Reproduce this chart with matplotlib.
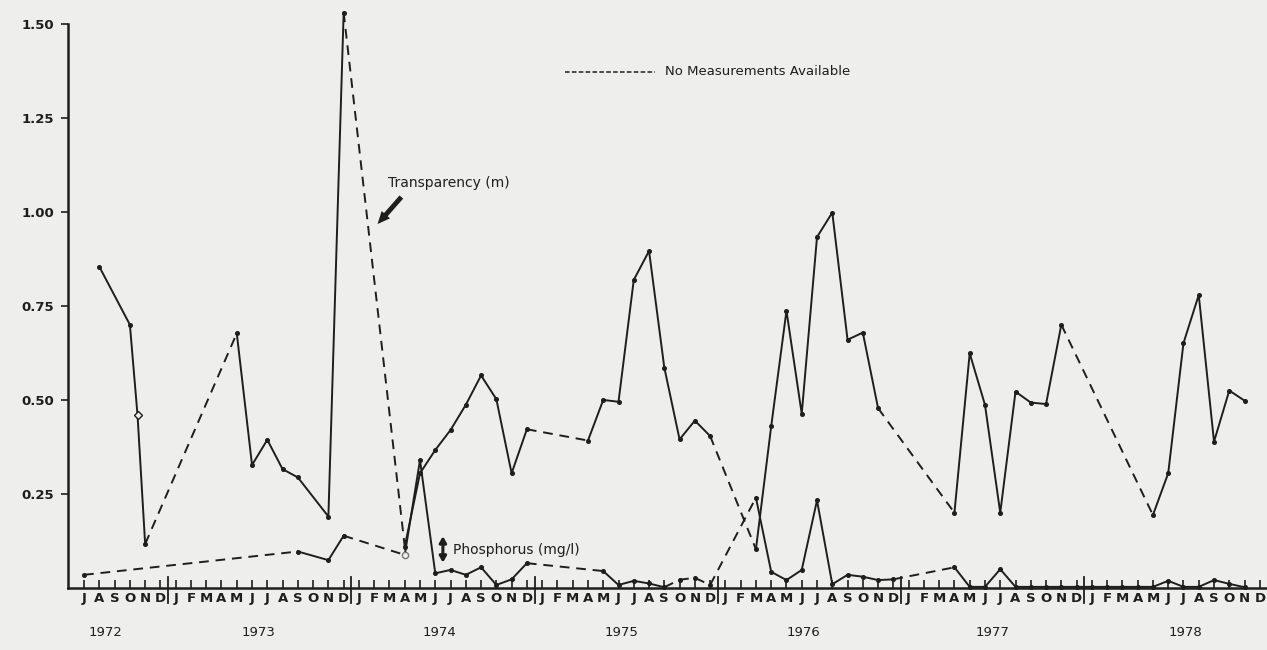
import matplotlib
matplotlib.use("Agg")
import matplotlib.pyplot as plt

# ---------------- data (x = months since July 1972) ----------------
trans_month = [1, 3, 3.5, 4, 10, 11, 12, 13, 14, 16, 17, 21, 22, 23, 24, 25, 26, 27,
               28, 29, 33, 34, 35, 36, 37, 38, 39, 40, 41, 44, 45, 46, 47, 48, 49, 50,
               51, 52, 57, 58, 59, 60, 61, 62, 63, 64, 70, 71, 72, 73, 74, 75, 76]
trans_value = [0.854, 0.70, 0.46, 0.117, 0.677, 0.327, 0.394, 0.316, 0.294, 0.19, 1.53,
               0.11, 0.305, 0.367, 0.42, 0.487, 0.565, 0.502, 0.305, 0.422, 0.392, 0.50,
               0.495, 0.819, 0.896, 0.586, 0.395, 0.445, 0.404, 0.103, 0.43, 0.737, 0.463,
               0.933, 0.998, 0.66, 0.679, 0.478, 0.20, 0.624, 0.487, 0.20, 0.522, 0.493,
               0.489, 0.70, 0.194, 0.305, 0.651, 0.779, 0.389, 0.525, 0.498]
# months at which a "no measurements" (dashed) stretch begins
trans_gap_start = [4, 17, 29, 41, 52, 64]

phos_month = [0, 14, 16, 17, 21, 22, 23, 24, 25, 26, 27, 28, 29, 34, 35, 36, 37, 38,
              39, 40, 41, 44, 45, 46, 47, 48, 49, 50, 51, 52, 53, 57, 58, 59, 60, 61,
              62, 63, 64, 65, 66, 67, 68, 69, 70, 71, 72, 73, 74, 75, 76]
phos_value = [0.035, 0.097, 0.074, 0.139, 0.088, 0.34, 0.039, 0.048, 0.035, 0.055, 0.008,
              0.023, 0.066, 0.045, 0.008, 0.019, 0.012, 0.002, 0.022, 0.027, 0.008, 0.24,
              0.043, 0.021, 0.048, 0.233, 0.01, 0.035, 0.03, 0.021, 0.023, 0.055, 0.003,
              0.003, 0.05, 0.003, 0.003, 0.003, 0.003, 0.003, 0.003, 0.003, 0.003, 0.003,
              0.003, 0.019, 0.003, 0.003, 0.021, 0.011, 0.002]
phos_gap_start = [0, 17, 29, 38, 39, 40, 41, 53]

month_letters = list("JASOND") + list("JFMAMJJASOND") * 6
year_labels = ["1972", "1973", "1974", "1975", "1976", "1977", "1978"]
year_pos = [1.4, 11.4, 23.3, 35.2, 47.1, 59.5, 72.1]
y_ticks = [0.25, 0.50, 0.75, 1.00, 1.25, 1.50]

# ---------------- figure ----------------
BG = "#eeeeec"
INK = "#1e1e1e"
fig = plt.figure(figsize=(12.67, 6.5), dpi=100, facecolor=BG)
ax = fig.add_axes([0.0537, 0.0954, 0.9463, 0.868])
ax.set_facecolor(BG)
ax.set_xlim(-1.05, 77.47)
ax.set_ylim(0, 1.50)

for s in ["top", "right"]:
    ax.spines[s].set_visible(False)
for s in ["left", "bottom"]:
    ax.spines[s].set_color(INK)
    ax.spines[s].set_linewidth(1.8)


def draw_series(xs, ys, gap_starts):
    styles = ["D" if x in gap_starts else "S" for x in xs[:-1]]
    i = 0
    n = len(xs)
    while i < n - 1:
        st = styles[i]
        j = i
        while j < n - 1 and styles[j] == st:
            j += 1
        ls = "-" if st == "S" else (0, (5, 3.5))
        ax.plot(xs[i:j + 1], ys[i:j + 1], color=INK, lw=1.4, ls=ls,
                solid_joinstyle="miter", dash_capstyle="butt", clip_on=False)
        i = j
    ax.plot(xs, ys, ls="none", marker="o", ms=2.6, color=INK, clip_on=False)


draw_series(trans_month, trans_value, trans_gap_start)
draw_series(phos_month, phos_value, phos_gap_start)

# special open markers
ax.plot([3.5], [0.46], marker="D", ms=4.5, mfc=BG, mec=INK, mew=1.0, ls="none")
ax.plot([21], [0.088], marker="o", ms=4.5, mfc=BG, mec="#777777", mew=1.0, ls="none")

# x ticks: month letters
months = list(range(len(month_letters)))
ax.set_xticks(months)
ax.set_xticklabels(month_letters, fontsize=9.5, fontweight="bold", color=INK,
                   family="DejaVu Sans")
ax.tick_params(axis="x", direction="in", length=6, width=1.2, color=INK, pad=3)

# year separators
for k in range(6):
    m = 5.5 + 12 * k
    ax.plot([m, m], [-0.04, 0.028], color=INK, lw=1.3, clip_on=False)

# year labels
for lab, pos in zip(year_labels, year_pos):
    ax.text(pos, -0.118, lab, ha="center", va="center", fontsize=9.5,
            color=INK, transform=ax.transData, clip_on=False)

# y ticks
ax.set_yticks(y_ticks)
ax.set_yticklabels([f"{v:.2f}" for v in y_ticks], fontsize=9.5, fontweight="bold",
                   color=INK)
ax.tick_params(axis="y", direction="out", length=5, width=1.2, color=INK, pad=5)

# legend for dashed lines
ax.plot([31.5, 37.4], [1.372, 1.372], color=INK, lw=1.1, ls=(0, (3, 1.5)))
ax.text(38.05, 1.372, "No Measurements Available", fontsize=9.5, color=INK,
        ha="left", va="center")

# Transparency label with arrow
ax.text(19.9, 1.077, "Transparency (m)", fontsize=10, color=INK, ha="left", va="center")
ax.annotate("", xy=(19.1, 0.962), xytext=(20.9, 1.045),
            arrowprops=dict(arrowstyle="simple,head_length=0.9,head_width=0.8,tail_width=0.35",
                            color=INK, lw=0))

# Phosphorus label with marker
ax.text(24.15, 0.101, "Phosphorus (mg/l)", fontsize=10, color=INK, ha="left", va="center")
ax.annotate("", xy=(23.5, 0.145), xytext=(23.5, 0.06),
            arrowprops=dict(arrowstyle="<|-|>,head_length=0.35,head_width=0.2",
                            color=INK, lw=2.2))

fig.savefig("out.png", dpi=100, facecolor=BG)
